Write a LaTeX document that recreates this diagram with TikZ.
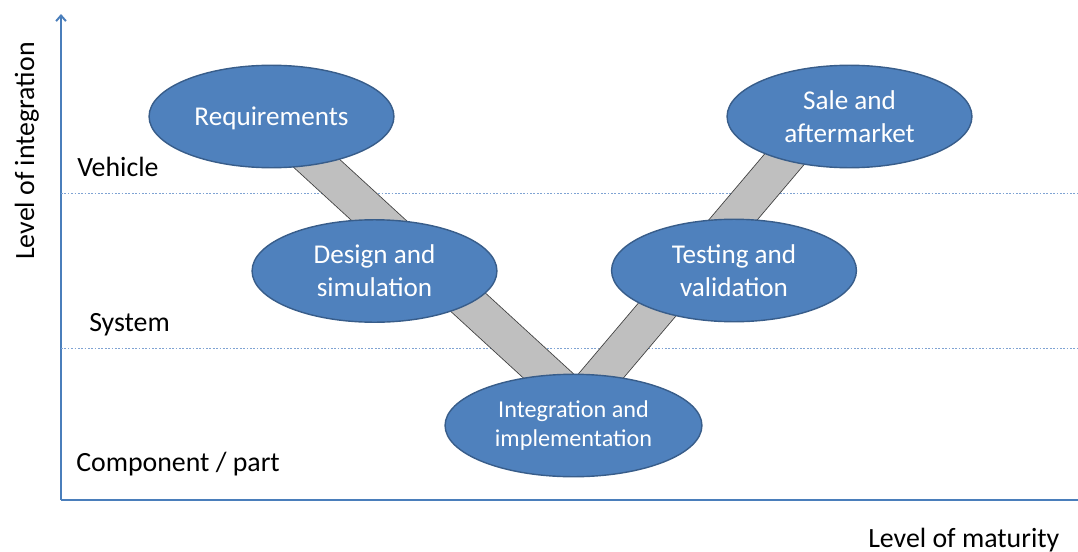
\documentclass[tikz,border=0pt]{standalone}
\usepackage{fontspec}
\setmainfont{Carlito}
\usetikzlibrary{shapes.geometric,arrows.meta}
\definecolor{axisblue}{HTML}{4A7EBB}
\definecolor{gridblue}{HTML}{7FA3D3}
\definecolor{phasefill}{HTML}{4F81BD}
\definecolor{phaseline}{HTML}{385D8A}
\definecolor{barfill}{HTML}{BFBFBF}
\definecolor{barline}{HTML}{404040}
\tikzset{
  phase/.style={ellipse, draw=phaseline, line width=1pt, fill=phasefill, text=white,
    align=center, inner sep=0pt, minimum width=6.12cm, minimum height=2.56cm,
    font=\fontsize{19.3}{23.4}\selectfont},
  level/.style={anchor=base west, inner sep=0pt, font=\fontsize{19.8}{24}\selectfont},
  gridline/.style={gridblue, line width=0.6pt, dash pattern=on 1.2pt off 1.2pt}
}
\begin{document}
\begin{tikzpicture}[x=0.025cm, y=-0.025cm, >={Straight Barb[length=4pt,width=7pt]}]
    \useasboundingbox (0,0) rectangle (1078,552);
    % axes
    \draw[->, axisblue, line width=1.4pt](61,500)--(61,14);
    \draw[axisblue, line width=1.4pt](61,500)--(1078,500);
    \draw[gridline](61,193)--(1078,193);
    \draw[gridline](61,348)--(1078,348);
    \node[level, rotate=90] (yl) at (34,260) {Level of integration};
    \node[level] (xl) at (868,547) {Level of maturity};
    \node[level] (veh) at (77,176) {Vehicle};
    \node[level] (sys) at (89,331) {System};
    \node[level] (comp) at (76,471) {Component / part};
    % the V
    \coordinate (vl) at (265,116);
    \coordinate (vtip) at (578,403);
    \coordinate (vr) at (821,116);
    \draw[barline, line width=0.6pt, double=barfill, double distance=0.9cm, line join=miter](vl)--(vtip)--(vr);
    % phases
    \node[phase, text depth=0pt] (req) at (271.5,116.5) {Requirements};
    \node[phase] (des) at (374.5,271) {Design and\\simulation};
    \node[phase, minimum width=6.42cm, font=\fontsize{17.2}{20}\selectfont] (int) at (573.5,425.5) {Integration and\\implementation};
    \node[phase] (tst) at (734,270.5) {Testing and\\validation};
    \node[phase] (sal) at (849.5,116.5) {Sale and\\aftermarket};
\end{tikzpicture}
\end{document}
